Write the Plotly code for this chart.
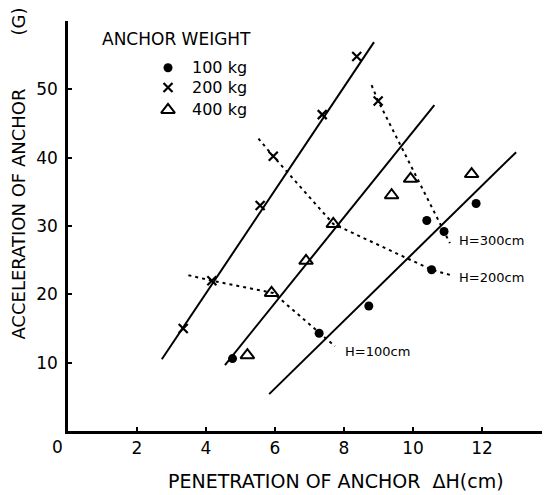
import plotly.graph_objects as go

# ---- data ----
w100_x = [4.77, 7.28, 8.72, 10.54, 10.40, 10.90, 11.83]
w100_y = [10.6, 14.3, 18.3, 23.6, 30.8, 29.2, 33.3]

w200_x = [3.34, 4.17, 5.57, 5.95, 7.37, 8.37, 8.99]
w200_y = [15.0, 22.0, 33.0, 40.2, 46.3, 54.8, 48.3]

w400_x = [5.20, 5.90, 6.90, 7.69, 9.38, 9.93, 11.70]
w400_y = [11.1, 20.2, 24.9, 30.3, 34.5, 36.9, 37.6]

fit200_x = [2.72, 8.87]
fit200_y = [10.5, 56.9]
fit400_x = [4.55, 10.62]
fit400_y = [9.65, 47.7]
fit100_x = [5.83, 12.99]
fit100_y = [5.4, 40.8]

h100_x = [3.49, 4.17, 5.95, 7.28, 7.74]
h100_y = [22.8, 22.0, 20.2, 14.3, 12.4]
h200_x = [5.52, 5.95, 7.69, 10.54, 11.10]
h200_y = [42.8, 40.2, 30.3, 23.6, 22.8]
h300_x = [8.80, 8.99, 10.90, 11.07]
h300_y = [50.6, 48.3, 29.2, 27.5]

h_labels = ["H=100cm", "H=200cm", "H=300cm"]
h_label_x = [7.98, 11.27, 11.27]
h_label_y = [11.7, 22.5, 27.9]

legend_labels = ["100 kg", "200 kg", "400 kg"]
x_ticks = [2, 4, 6, 8, 10, 12]
y_ticks = [10, 20, 30, 40, 50]

FONT = "DejaVu Sans"
fig = go.Figure()

line_style = dict(color="black", width=2)
dash_style = dict(color="black", width=2, dash="3px,4px")

for fx, fy in [(fit200_x, fit200_y), (fit400_x, fit400_y), (fit100_x, fit100_y)]:
    fig.add_trace(go.Scatter(x=fx, y=fy, mode="lines", line=line_style, showlegend=False, hoverinfo="skip"))
for hx, hy in [(h100_x, h100_y), (h200_x, h200_y), (h300_x, h300_y)]:
    fig.add_trace(go.Scatter(x=hx, y=hy, mode="lines", line=dash_style, showlegend=False, hoverinfo="skip"))

m100 = dict(symbol="circle", size=9, color="black")
m200 = dict(symbol="x-thin-open", size=9, color="black", line=dict(color="black", width=2.2))
m400 = dict(symbol="triangle-up-open", size=12, color="black", line=dict(color="black", width=2))

fig.add_trace(go.Scatter(x=w100_x, y=w100_y, mode="markers", marker=m100, name=legend_labels[0], showlegend=False))
fig.add_trace(go.Scatter(x=w200_x, y=w200_y, mode="markers", marker=m200, name=legend_labels[1], showlegend=False))
fig.add_trace(go.Scatter(x=w400_x, y=w400_y, mode="markers", marker=m400, name=legend_labels[2], showlegend=False))

# legend drawn on an overlay axis spanning the plot area (0..1)
leg_sym_x = 0.211
leg_y = [0.886, 0.838, 0.783]
for i, m in enumerate([m100, m200, m400]):
    fig.add_trace(go.Scatter(x=[leg_sym_x], y=[leg_y[i]], mode="markers", marker=m,
                             xaxis="x2", yaxis="y2", showlegend=False, hoverinfo="skip"))

annotations = []
annotations.append(dict(text="ANCHOR WEIGHT", xref="paper", yref="paper", x=0.0675, y=0.956,
                        xanchor="left", yanchor="middle", showarrow=False,
                        font=dict(family=FONT, size=17, color="black")))
for i, lab in enumerate(legend_labels):
    annotations.append(dict(text=lab, xref="paper", yref="paper", x=0.2574, y=leg_y[i],
                            xanchor="left", yanchor="middle", showarrow=False,
                            font=dict(family=FONT, size=16, color="black")))
for lab, lx, ly in zip(h_labels, h_label_x, h_label_y):
    annotations.append(dict(text=lab, x=lx, y=ly, xref="x", yref="y", xanchor="left", yanchor="middle",
                            showarrow=False, font=dict(family=FONT, size=13, color="black")))
annotations.append(dict(text="0", xref="paper", yref="paper", x=-0.0232, y=-0.039,
                        xanchor="center", yanchor="middle", showarrow=False,
                        font=dict(family=FONT, size=17, color="black")))
annotations.append(dict(text="ACCELERATION OF ANCHOR", xref="paper", yref="paper", x=-0.1044, y=0.529,
                        textangle=-90, xanchor="center", yanchor="middle", showarrow=False,
                        font=dict(family=FONT, size=18, color="black")))
annotations.append(dict(text="(G)", xref="paper", yref="paper", x=-0.1044, y=0.9976,
                        textangle=-90, xanchor="center", yanchor="middle", showarrow=False,
                        font=dict(family=FONT, size=18, color="black")))
annotations.append(dict(text="PENETRATION OF ANCHOR  \u0394H(cm)", xref="paper", yref="paper",
                        x=(336 - 68) / 474, y=(431 - 481) / 410,
                        xanchor="center", yanchor="middle", showarrow=False,
                        font=dict(family=FONT, size=19, color="black")))

fig.update_layout(
    width=544, height=495,
    margin=dict(l=68, r=2, t=21, b=64),
    paper_bgcolor="white", plot_bgcolor="white",
    showlegend=False,
    font=dict(family=FONT, size=17, color="black"),
    xaxis=dict(range=[0, 13.74], tickvals=x_ticks, ticktext=[str(v) for v in x_ticks],
               showgrid=False, zeroline=False, showline=True, linecolor="black", linewidth=2.5,
               ticks="inside", ticklen=4, tickwidth=1.5, tickcolor="black",
               tickfont=dict(family=FONT, size=17, color="black")),
    yaxis=dict(range=[0, 60], tickvals=y_ticks, ticktext=[str(v) for v in y_ticks],
               showgrid=False, zeroline=False, showline=True, linecolor="black", linewidth=2.5,
               ticks="inside", ticklen=4, tickwidth=1.5, tickcolor="black",
               ticklabelposition="outside", ticklabelstandoff=4,
               tickfont=dict(family=FONT, size=17, color="black")),
    xaxis2=dict(range=[0, 1], overlaying="x", visible=False, domain=[0, 1]),
    yaxis2=dict(range=[0, 1], overlaying="y", visible=False, domain=[0, 1]),
    annotations=annotations,
)

fig.write_html("out.html")
